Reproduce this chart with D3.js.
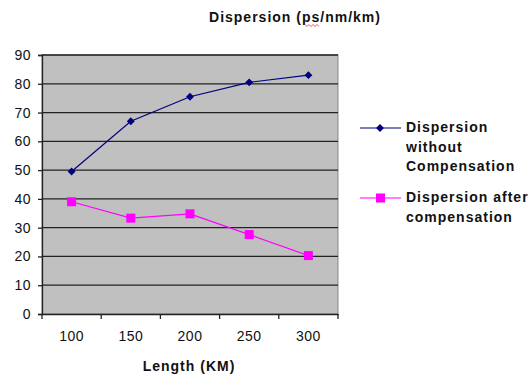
<!DOCTYPE html>
<html>
<head>
<meta charset="utf-8">
<script src="https://cdn.jsdelivr.net/npm/d3@7"></script>
<style>
  body { margin: 0; background: #fff; }
  text { font-family: "Liberation Sans", Arial, sans-serif; fill: #111; }
</style>
</head>
<body>
<div id="chart"></div>
<script>
const lengths = ["100", "150", "200", "250", "300"];
const withoutComp = [49.5, 67, 75.5, 80.5, 83];
const afterComp = [39, 33.3, 34.8, 27.6, 20.3];
const yTicks = [0, 10, 20, 30, 40, 50, 60, 70, 80, 90];
const seriesNames = [["Dispersion", "without", "Compensation"], ["Dispersion after", "compensation"]];

const width = 528, height = 379;
const margin = {top: 55, right: 190, bottom: 65, left: 42};

const svg = d3.select("#chart").append("svg")
    .attr("width", width)
    .attr("height", height);

let x = d3.scaleBand()
    .domain(lengths)
    .range([margin.left, width - margin.right]);
let y = d3.scaleLinear()
    .domain([0, 90])
    .range([height - margin.bottom, margin.top]);

// plot area
svg.append("rect")
    .attr("x", margin.left)
    .attr("y", margin.top)
    .attr("width", width - margin.right - margin.left)
    .attr("height", height - margin.bottom - margin.top)
    .attr("fill", "#c0c0c0")
    .attr("stroke", "#888")
    .attr("stroke-width", 1);

// gridlines
svg.append("g")
    .selectAll("line")
    .data(yTicks.slice(1))
    .join("line")
    .attr("x1", margin.left)
    .attr("x2", width - margin.right)
    .attr("y1", d => y(d))
    .attr("y2", d => y(d))
    .attr("stroke", "#222")
    .attr("stroke-width", 1.3);

let yAxis = g => g
    .attr("transform", `translate(${margin.left},0)`)
    .call(d3.axisLeft(y).tickValues(yTicks).tickSize(4).tickPadding(7))
    .call(g => g.select(".domain").attr("stroke", "#222").attr("stroke-width", 1.3))
    .call(g => g.selectAll(".tick line").attr("stroke", "#222").attr("stroke-width", 1.3))
    .call(g => g.selectAll("text").style("font-size", "14px").style("letter-spacing", "0.5px").attr("fill", "#222"));

let xAxis = g => g
    .attr("transform", `translate(0,${height - margin.bottom})`)
    .call(d3.axisBottom(x).tickSize(0).tickPadding(17).tickSizeOuter(0))
    .call(g => g.select(".domain").attr("stroke", "#222").attr("stroke-width", 1.3))
    .call(g => g.selectAll("text").style("font-size", "14px").style("letter-spacing", "0.5px").attr("fill", "#222"));

svg.append("g").call(xAxis);
svg.append("g").call(yAxis);

// category separator ticks
const edges = lengths.map(d => x(d)).concat([x(lengths[lengths.length - 1]) + x.bandwidth()]);
svg.append("g")
    .selectAll("line")
    .data(edges)
    .join("line")
    .attr("x1", d => d)
    .attr("x2", d => d)
    .attr("y1", height - margin.bottom)
    .attr("y2", height - margin.bottom + 5)
    .attr("stroke", "#222")
    .attr("stroke-width", 1.3);

const cx = d => x(d) + x.bandwidth() / 2;
const line = d3.line().x((d, i) => cx(lengths[i])).y(d => y(d));

// series 1
svg.append("path")
    .datum(withoutComp)
    .attr("fill", "none")
    .attr("stroke", "#000080")
    .attr("stroke-width", 1.2)
    .attr("d", line);
svg.append("g")
    .selectAll("path")
    .data(withoutComp)
    .join("path")
    .attr("transform", (d, i) => `translate(${cx(lengths[i])},${y(d)})`)
    .attr("d", d3.symbol(d3.symbolDiamond2, 40))
    .attr("fill", "#000080");

// series 2
svg.append("path")
    .datum(afterComp)
    .attr("fill", "none")
    .attr("stroke", "#ff00ff")
    .attr("stroke-width", 1.2)
    .attr("d", line);
svg.append("g")
    .selectAll("rect")
    .data(afterComp)
    .join("rect")
    .attr("x", (d, i) => cx(lengths[i]) - 4.5)
    .attr("y", d => y(d) - 4.5)
    .attr("width", 9)
    .attr("height", 9)
    .attr("fill", "#ff00ff");

// title
svg.append("text")
    .attr("x", 295)
    .attr("y", 22)
    .attr("text-anchor", "middle")
    .style("font-size", "14px")
    .style("font-weight", "bold")
    .style("letter-spacing", "1px")
    .text("Dispersion (ps/nm/km)");
// spell-check squiggle under "ps"
svg.append("path")
    .attr("d", "M305,24.5 l2,2 l2,-2 l2,2 l2,-2 l2,2 l2,-2 l2,2")
    .attr("fill", "none")
    .attr("stroke", "#e03030")
    .attr("stroke-width", 0.8);

// x title
svg.append("text")
    .attr("x", 189)
    .attr("y", 371)
    .attr("text-anchor", "middle")
    .style("font-size", "14px")
    .style("font-weight", "bold")
    .style("letter-spacing", "1px")
    .text("Length (KM)");

// legend
const legend = [
    {names: seriesNames[0], color: "#000080", y: 128, shape: "diamond"},
    {names: seriesNames[1], color: "#ff00ff", y: 198, shape: "square"}
];
const lg = svg.append("g").selectAll("g").data(legend).join("g");
lg.append("line")
    .attr("x1", 360).attr("x2", 401)
    .attr("y1", d => d.y).attr("y2", d => d.y)
    .attr("stroke", d => d.color)
    .attr("stroke-width", 1.2);
lg.filter(d => d.shape === "diamond").append("path")
    .attr("transform", d => `translate(380,${d.y})`)
    .attr("d", d3.symbol(d3.symbolDiamond2, 40))
    .attr("fill", d => d.color);
lg.filter(d => d.shape === "square").append("rect")
    .attr("x", 376).attr("y", d => d.y - 4.5)
    .attr("width", 9).attr("height", 9)
    .attr("fill", d => d.color);
lg.append("text")
    .attr("x", 406)
    .attr("y", d => d.y + 4)
    .style("font-size", "14px")
    .style("font-weight", "bold")
    .style("letter-spacing", "1px")
    .selectAll("tspan")
    .data(d => d.names)
    .join("tspan")
    .attr("x", 406)
    .attr("dy", (d, i) => i === 0 ? 0 : 19.5)
    .text(d => d);
</script>
</body>
</html>
